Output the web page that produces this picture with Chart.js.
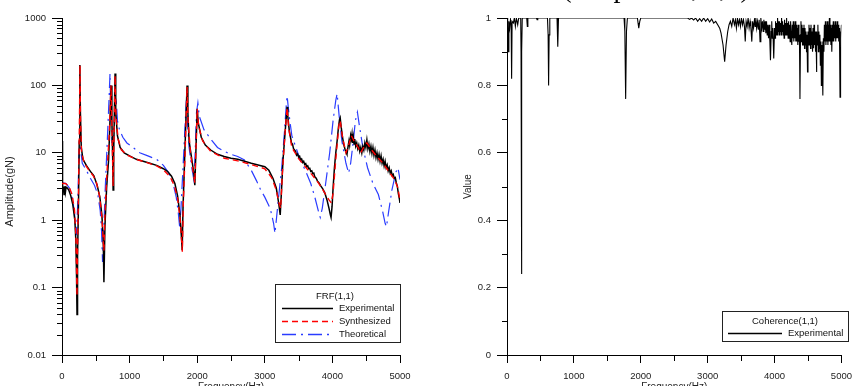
<!DOCTYPE html>
<html>
<head>
<meta charset="utf-8">
<script src="https://cdn.jsdelivr.net/npm/chart.js@4.4.1/dist/chart.umd.min.js"></script>
<style>
html, body { margin: 0; padding: 0; background: #fff; overflow: hidden; }
#wrap { position: relative; width: 860px; height: 386px; }
canvas { position: absolute; top: 0; }
#frfChart { left: 0; }
#cohChart { left: 430px; }
</style>
</head>
<body>
<div id="wrap">
  <canvas id="frfChart" width="430" height="386"></canvas>
  <canvas id="cohChart" width="430" height="386"></canvas>
</div>
<script>
// ==============================
// DATA  (frequency Hz, value)
// ==============================
const freqTicks = [0, 1000, 2000, 3000, 4000, 5000];
const freqTickLabels = ["0", "1000", "2000", "3000", "4000", "5000"];
const freqMinor = [500, 1500, 2500, 3500, 4500];

const ampTicks = [0.01, 0.1, 1, 10, 100, 1000];
const ampTickLabels = ["0.01", "0.1", "1", "10", "100", "1000"];
const ampMinor = [0.02, 0.03, 0.04, 0.05, 0.06, 0.07, 0.08, 0.09,
                  0.2, 0.3, 0.4, 0.5, 0.6, 0.7, 0.8, 0.9,
                  2, 3, 4, 5, 6, 7, 8, 9,
                  20, 30, 40, 50, 60, 70, 80, 90,
                  200, 300, 400, 500, 600, 700, 800, 900];

const cohTickLabels = ["0", "0.2", "0.4", "0.6", "0.8", "1"];
const cohMinor = [0.1, 0.3, 0.5, 0.7, 0.9];

const experimental = [
  [0, 15], [8, 3.3], [20, 3.0], [30, 2.4], [40, 3.2], [50, 2.6], [60, 3.1], [80, 3.0], [100, 2.8],
  [130, 2.3], [160, 1.7], [190, 1.0], [205, 0.5], [215, 0.15], [222, 0.04], [230, 0.3], [245, 2],
  [255, 15], [262, 80], [266, 200], [272, 40], [285, 12], [310, 8], [360, 6.5], [420, 5.3], [470, 4.6],
  [520, 3.3], [560, 2.2], [590, 1.2], [610, 0.5], [620, 0.12], [635, 0.8], [660, 3], [690, 8], [710, 30],
  [725, 100], [738, 30], [750, 8], [756, 2.8], [765, 10], [778, 60], [785, 150], [795, 40], [820, 18],
  [860, 12], [920, 10], [1000, 9], [1100, 8], [1200, 7.5], [1300, 7], [1400, 6.5], [1500, 5.8],
  [1560, 5.3], [1620, 4.5], [1670, 3.5], [1710, 2.3], [1745, 1.2], [1765, 0.6], [1778, 0.36],
  [1790, 1.5], [1810, 6], [1830, 25], [1850, 100], [1862, 40], [1880, 15], [1920, 8], [1950, 5],
  [1965, 3.3], [1980, 10], [2000, 45], [2015, 28], [2060, 17], [2120, 13], [2200, 11], [2300, 9.5],
  [2400, 8.8], [2500, 8.3], [2600, 8], [2700, 7.5], [2800, 7], [2900, 6.6], [3000, 6.2], [3060, 5.5],
  [3120, 4.2], [3170, 3], [3205, 1.8], [3228, 1.2], [3245, 2.5], [3270, 8], [3300, 20], [3330, 48],
  [3340, 35], [3350, 28], [3365, 20], [3380, 17], [3395, 14], [3410, 13.5], [3425, 11.5], [3440, 11],
  [3455, 10.5], [3470, 9.2], [3485, 9.6], [3500, 8.6], [3515, 8.9], [3530, 7.8], [3545, 8.1],
  [3560, 7.2], [3575, 7.5], [3590, 6.7], [3605, 6.9], [3620, 6.2], [3635, 6.4], [3650, 5.8],
  [3665, 5.9], [3680, 5.3], [3695, 5.4], [3710, 4.9], [3725, 5], [3740, 4.4], [3760, 4.2],
  [3780, 3.8], [3800, 3.6], [3830, 3.2], [3860, 2.9], [3890, 2.5], [3920, 2.0], [3950, 1.5],
  [3970, 1.2], [3980, 1.1], [3995, 1.6], [4010, 3], [4030, 6], [4050, 10], [4070, 15], [4090, 24],
  [4105, 31], [4115, 33], [4130, 24], [4150, 17], [4170, 13], [4190, 11], [4205, 10], [4215, 9.5],
  [4230, 12], [4245, 15], [4255, 13], [4270, 18], [4280, 16], [4290, 19], [4300, 14], [4310, 17],
  [4320, 13.5], [4330, 16], [4345, 12.5], [4360, 14], [4375, 11.5], [4390, 13], [4405, 10.5],
  [4420, 12], [4435, 10], [4450, 12.5], [4465, 11], [4480, 14], [4495, 12], [4510, 15.5],
  [4525, 11.5], [4540, 13.5], [4555, 10.5], [4570, 12.5], [4585, 9.8], [4600, 12], [4615, 9.2],
  [4630, 11], [4645, 8.5], [4660, 10], [4675, 8], [4690, 9.5], [4705, 7.5], [4720, 9], [4735, 7],
  [4750, 8], [4765, 6.4], [4780, 7.5], [4795, 6], [4810, 6.6], [4825, 5.4], [4840, 6], [4855, 5],
  [4870, 5.4], [4885, 4.6], [4900, 4.8], [4915, 4.2], [4930, 4.3], [4945, 3.6], [4960, 3.2],
  [4975, 2.5], [4990, 2.1], [5000, 1.8]
];

const synthesized = [
  [0, 3.5], [50, 3.5], [100, 3.2], [150, 2.4], [185, 1.4], [205, 0.6], [215, 0.2], [222, 0.075],
  [230, 0.4], [245, 3], [258, 30], [266, 200], [274, 30], [290, 10], [330, 7], [400, 5.5], [460, 4.6],
  [510, 3.6], [555, 2.3], [590, 1.1], [610, 0.5], [620, 0.35], [635, 1.2], [665, 5], [700, 20],
  [725, 100], [738, 25], [748, 8], [756, 3.2], [768, 15], [785, 140], [798, 35], [830, 16], [880, 11],
  [960, 9.3], [1100, 8], [1250, 7.2], [1400, 6.4], [1500, 5.6], [1600, 4.4], [1660, 3.3], [1710, 2.1],
  [1745, 1.1], [1770, 0.5], [1780, 0.34], [1795, 1.8], [1820, 9], [1850, 95], [1865, 30], [1900, 10],
  [1945, 4.8], [1965, 3.6], [1985, 15], [2000, 45], [2020, 25], [2080, 15], [2200, 10.5], [2400, 8.3],
  [2600, 7.6], [2800, 6.7], [3000, 5.8], [3100, 4.3], [3170, 2.8], [3210, 1.8], [3235, 1.5],
  [3260, 5], [3300, 20], [3330, 47], [3350, 25], [3400, 12], [3500, 8.2], [3600, 6.2], [3700, 4.7],
  [3800, 3.5], [3880, 2.6], [3950, 2.0], [3985, 1.8], [4010, 2.5], [4050, 8], [4100, 28], [4115, 30],
  [4150, 17], [4200, 10], [4240, 13], [4280, 18], [4320, 15], [4380, 12], [4420, 10], [4470, 12.5],
  [4510, 14], [4580, 11], [4650, 9], [4750, 7], [4850, 5], [4920, 4], [4970, 3], [5000, 1.9]
];

const theoretical = [
  [0, 3.6], [60, 3.5], [110, 3.0], [150, 2.2], [185, 1.3], [200, 0.8], [212, 0.6], [230, 1.5],
  [250, 8], [262, 20], [272, 12], [300, 7], [360, 5.5], [420, 4.2], [480, 3.3], [530, 2.4],
  [565, 1.4], [585, 0.7], [600, 0.24], [615, 0.6], [640, 3], [670, 15], [695, 60], [710, 150],
  [722, 40], [740, 14], [760, 20], [790, 45], [805, 55], [820, 30], [850, 22], [900, 17], [960, 14],
  [1050, 12], [1150, 10], [1270, 9], [1400, 8], [1500, 6.5], [1580, 5], [1640, 3.6], [1690, 2.2],
  [1720, 1.3], [1740, 0.8], [1760, 1.5], [1790, 6], [1820, 25], [1840, 60], [1855, 30], [1880, 12],
  [1920, 6], [1950, 4], [1970, 10], [1990, 40], [2010, 55], [2030, 35], [2100, 22], [2200, 16],
  [2300, 12], [2400, 10.5], [2500, 9.5], [2600, 8.8], [2700, 7.8], [2800, 5.5], [2880, 3.8],
  [2940, 2.8], [3000, 2.2], [3080, 1.5], [3130, 0.9], [3150, 0.64], [3170, 1], [3200, 2], [3250, 6],
  [3290, 20], [3320, 55], [3330, 70], [3345, 50], [3370, 30], [3400, 18], [3460, 12], [3520, 8],
  [3600, 5.5], [3680, 3.5], [3740, 2.2], [3790, 1.4], [3820, 1.1], [3850, 1.5], [3900, 3.5],
  [3960, 10], [4010, 30], [4050, 60], [4070, 75], [4100, 35], [4140, 15], [4200, 7], [4240, 5],
  [4270, 7], [4310, 15], [4340, 30], [4370, 40], [4400, 25], [4450, 12], [4520, 6], [4600, 3.5],
  [4680, 2.4], [4740, 1.4], [4780, 0.9], [4800, 0.8], [4830, 1.3], [4880, 2.8], [4940, 5.2],
  [4970, 6], [5000, 4]
];

const coherence = [
  [0, 1], [10, 0.98], [20, 0.9], [28, 0.99], [40, 0.97], [52, 0.995], [62, 0.98], [69, 0.82], [76, 0.99],
  [95, 0.985], [110, 1], [125, 0.975], [140, 1], [160, 0.98], [175, 1], [205, 1], [210, 0.9], [216, 0.24],
  [222, 0.9], [228, 1], [295, 1], [304, 0.975], [312, 1], [440, 1], [450, 0.995], [460, 1], [605, 1],
  [615, 0.95], [622, 0.8], [630, 0.95], [640, 1], [748, 1], [759, 0.915], [770, 1], [1200, 1], [1750, 1],
  [1762, 0.96], [1774, 0.76], [1786, 0.96], [1800, 1], [1950, 1], [1960, 0.985], [1970, 0.97],
  [1985, 0.99], [2000, 1], [2700, 1], [2730, 0.996], [2760, 1], [2790, 0.994], [2820, 1], [2850, 0.99],
  [2880, 0.998], [2910, 0.99], [2940, 1], [2970, 0.99], [3000, 0.998], [3030, 0.988], [3060, 0.997],
  [3090, 0.985], [3120, 0.99], [3150, 0.98], [3180, 0.97], [3200, 0.955], [3230, 0.92], [3254, 0.87],
  [3275, 0.92], [3300, 0.96], [3320, 0.98], [3340, 0.99], [3360, 0.975], [3380, 1], [3400, 0.98],
  [3415, 0.995], [3430, 0.97], [3445, 1], [3460, 0.98], [3475, 0.995], [3490, 0.975], [3505, 1],
  [3520, 0.98], [3535, 0.995], [3550, 0.975], [3562, 0.93], [3575, 0.99], [3590, 0.975], [3605, 1],
  [3620, 0.97], [3635, 0.99], [3645, 0.975], [3660, 0.93], [3672, 0.99], [3686, 0.97], [3700, 0.995],
  [3710, 0.975], [3720, 1], [3732, 0.97], [3745, 0.99], [3758, 0.965], [3770, 0.995], [3783, 0.93],
  [3795, 1], [3808, 0.97], [3820, 0.99], [3830, 0.96], [3840, 0.995], [3850, 0.965], [3860, 0.99],
  [3870, 0.955], [3880, 0.99], [3890, 0.95], [3900, 0.98], [3910, 0.94], [3920, 0.98], [3930, 0.93],
  [3939, 0.875], [3950, 0.96], [3958, 0.99], [3965, 0.94], [3975, 0.97], [3988, 0.88], [4000, 0.97],
  [4008, 0.94], [4015, 0.99], [4022, 0.95], [4030, 0.985], [4038, 0.95], [4045, 1], [4053, 0.96],
  [4060, 0.99], [4068, 0.95], [4075, 0.99], [4083, 0.96], [4090, 0.985], [4098, 0.95], [4105, 1],
  [4113, 0.96], [4120, 0.99], [4128, 0.95], [4135, 0.98], [4143, 0.94], [4150, 0.995], [4158, 0.95],
  [4165, 0.985], [4173, 0.95], [4180, 1], [4188, 0.95], [4195, 0.985], [4203, 0.94], [4210, 0.99],
  [4218, 0.94], [4225, 0.98], [4233, 0.93], [4240, 0.99], [4250, 0.94], [4258, 0.92], [4265, 0.98],
  [4272, 0.94], [4280, 0.99], [4288, 0.93], [4295, 0.98], [4303, 0.94], [4310, 0.99], [4318, 0.93],
  [4325, 0.98], [4333, 0.93], [4340, 0.97], [4348, 0.92], [4355, 0.98], [4365, 0.93], [4372, 0.95],
  [4380, 0.76], [4388, 0.95], [4395, 0.99], [4403, 0.93], [4410, 0.98], [4418, 0.92], [4425, 0.97],
  [4433, 0.92], [4440, 0.98], [4448, 0.91], [4455, 0.97], [4463, 0.92], [4470, 0.96], [4478, 0.9],
  [4485, 0.95], [4493, 0.84], [4500, 0.96], [4508, 0.92], [4515, 0.98], [4523, 0.92], [4530, 0.97],
  [4538, 0.91], [4545, 0.98], [4553, 0.92], [4560, 0.96], [4568, 0.9], [4575, 0.97], [4583, 0.91],
  [4590, 0.98], [4598, 0.92], [4605, 0.96], [4613, 0.9], [4620, 0.95], [4626, 0.84], [4633, 0.96],
  [4640, 0.92], [4648, 0.98], [4655, 0.9], [4663, 0.96], [4670, 0.91], [4678, 0.95], [4685, 0.86],
  [4693, 0.93], [4700, 0.8], [4707, 0.92], [4714, 0.86], [4720, 0.93], [4724, 0.77], [4730, 0.94],
  [4738, 0.9], [4745, 0.98], [4753, 0.93], [4760, 0.99], [4768, 0.92], [4775, 0.98], [4783, 0.93],
  [4790, 0.99], [4798, 0.92], [4805, 0.98], [4813, 0.93], [4820, 1], [4828, 0.93], [4835, 0.98],
  [4843, 0.92], [4850, 0.97], [4856, 0.9], [4863, 0.98], [4870, 0.93], [4878, 0.99], [4885, 0.93],
  [4893, 0.98], [4900, 0.94], [4908, 0.99], [4915, 0.93], [4923, 0.98], [4930, 0.94], [4938, 0.99],
  [4945, 0.94], [4953, 0.98], [4960, 0.93], [4967, 0.97], [4972, 0.93], [4979, 0.765], [4986, 0.96],
  [4993, 0.94], [5000, 0.98]
];

// ==============================
// HELPERS
// ==============================
const FONT = '"Liberation Sans", Arial, sans-serif';
Chart.defaults.font.family = FONT;
Chart.defaults.font.size = 9.5;
Chart.defaults.color = "#222";

const toXY = arr => arr.map(p => ({ x: p[0], y: p[1] }));

// minor ticks, axis titles, boxed legend
const decorPlugin = {
  id: "decor",
  afterDraw(chart, args, opts) {
    const ctx = chart.ctx;
    const { left, right, top, bottom } = chart.chartArea;
    const xs = chart.scales.x;
    const ys = chart.scales.y;

    ctx.save();
    ctx.strokeStyle = "#000";
    ctx.lineWidth = 1;
    ctx.beginPath();
    opts.xMinor.forEach(v => {
      const px = Math.round(xs.getPixelForValue(v)) + 0.5;
      ctx.moveTo(px, bottom);
      ctx.lineTo(px, bottom + 6);
    });
    opts.yMinor.forEach(v => {
      const py = Math.round(ys.getPixelForValue(v)) + 0.5;
      ctx.moveTo(left - 5, py);
      ctx.lineTo(left, py);
    });
    ctx.stroke();

    // axis titles (x title is cut off by the bottom edge, like the source)
    ctx.fillStyle = "#222";
    ctx.font = "10px " + FONT;
    ctx.textAlign = "center";
    ctx.textBaseline = "top";
    ctx.fillText(opts.xTitle, (left + right) / 2, 382);
    ctx.save();
    ctx.font = opts.yTitleSize + "px " + FONT;
    ctx.translate(opts.yTitleX, (top + bottom) / 2 + opts.yTitleShift);
    ctx.rotate(-Math.PI / 2);
    ctx.textBaseline = "middle";
    ctx.fillText(opts.yTitle, 0, 0);
    ctx.restore();

    if (opts.topTitle) {
      ctx.font = opts.topTitle.font;
      ctx.fillStyle = "#000";
      ctx.textBaseline = "alphabetic";
      ctx.fillText(opts.topTitle.text, opts.topTitle.x, opts.topTitle.y);
    }

    // legend
    const lg = opts.legend;
    const [x1, y1, x2, y2] = lg.box;
    ctx.fillStyle = "#fff";
    ctx.fillRect(x1, y1, x2 - x1, y2 - y1);
    ctx.strokeStyle = "#222";
    ctx.lineWidth = 1;
    ctx.strokeRect(x1 + 0.5, y1 + 0.5, x2 - x1, y2 - y1);
    ctx.font = "9.5px " + FONT;
    ctx.fillStyle = "#111";
    ctx.textBaseline = "middle";
    ctx.textAlign = "center";
    ctx.fillText(lg.title, lg.titleX, lg.titleY);
    ctx.textAlign = "left";
    chart.data.datasets.forEach((ds, i) => {
      const y = lg.rowY[i];
      ctx.save();
      ctx.beginPath();
      ctx.setLineDash(ds.borderDash || []);
      ctx.strokeStyle = ds.borderColor;
      ctx.lineWidth = 1.4;
      ctx.moveTo(lg.lineX[0], y + 0.5);
      ctx.lineTo(lg.lineX[1], y + 0.5);
      ctx.stroke();
      ctx.restore();
      ctx.fillStyle = "#111";
      ctx.fillText(ds.label, lg.textX, y);
    });
    ctx.restore();
  }
};

function xScale() {
  return {
    type: "linear",
    min: 0,
    max: 5000,
    afterBuildTicks: s => { s.ticks = freqTicks.map(v => ({ value: v })); },
    afterFit: s => { s.height = 31; },
    ticks: { autoSkip: false, maxRotation: 0, padding: 8, color: "#222", callback: (v, i) => freqTickLabels[i] },
    grid: { drawOnChartArea: false, tickLength: 8, tickColor: "#000", tickWidth: 1 },
    border: { color: "#000", width: 1 }
  };
}

// ==============================
// FRF CHART
// ==============================
new Chart(document.getElementById("frfChart"), {
  type: "line",
  data: {
    datasets: [
      { label: "Experimental", data: toXY(experimental), borderColor: "#000", borderWidth: 1.5, order: 2 },
      { label: "Synthesized", data: toXY(synthesized), borderColor: "#ff0000", borderWidth: 1.4,
        borderDash: [6, 4], order: 1 },
      { label: "Theoretical", data: toXY(theoretical), borderColor: "#2a3cff", borderWidth: 1.2,
        borderDash: [14, 5, 2, 5], order: 3 }
    ]
  },
  options: {
    responsive: false,
    animation: false,
    events: [],
    layout: { padding: { left: 0, right: 30, top: 18, bottom: 0 } },
    elements: { point: { radius: 0 }, line: { tension: 0 } },
    scales: {
      x: xScale(),
      y: {
        type: "logarithmic",
        min: 0.01,
        max: 1000,
        afterBuildTicks: s => { s.ticks = ampTicks.map(v => ({ value: v })); },
        afterFit: s => { s.width = 62; },
        ticks: { autoSkip: false, padding: 6, color: "#222", callback: (v, i) => ampTickLabels[i] },
        grid: { drawOnChartArea: false, tickLength: 10, tickColor: "#000", tickWidth: 1 },
        border: { color: "#000", width: 1 }
      }
    },
    plugins: {
      legend: { display: false },
      tooltip: { enabled: false },
      decor: {
        xMinor: freqMinor,
        yMinor: ampMinor,
        xTitle: "Frequency(Hz)",
        yTitle: "Amplitude(gN)",
        yTitleSize: 11,
        yTitleX: 10,
        yTitleShift: 5,
        legend: {
          box: [275, 284, 400, 342],
          title: "FRF(1,1)",
          titleX: 335, titleY: 296,
          rowY: [308, 321, 334],
          lineX: [282, 333],
          textX: 339
        }
      }
    }
  },
  plugins: [decorPlugin]
});

// ==============================
// COHERENCE CHART
// ==============================
new Chart(document.getElementById("cohChart"), {
  type: "line",
  data: {
    datasets: [
      { label: "Experimental", data: toXY(coherence), borderColor: "#000", borderWidth: 1.1 }
    ]
  },
  options: {
    responsive: false,
    animation: false,
    events: [],
    layout: { padding: { left: 0, right: 13, top: 18, bottom: 0 } },
    elements: { point: { radius: 0 }, line: { tension: 0 } },
    scales: {
      x: xScale(),
      y: {
        type: "linear",
        min: 0,
        max: 1,
        ticks: { stepSize: 0.2, autoSkip: false, padding: 6, color: "#222", callback: (v, i) => cohTickLabels[i] },
        afterFit: s => { s.width = 77; },
        grid: { drawOnChartArea: false, tickLength: 10, tickColor: "#000", tickWidth: 1 },
        border: { color: "#000", width: 1 }
      }
    },
    plugins: {
      legend: { display: false },
      tooltip: { enabled: false },
      decor: {
        xMinor: freqMinor,
        yMinor: cohMinor,
        xTitle: "Frequency(Hz)",
        yTitle: "Value",
        yTitleSize: 10,
        yTitleX: 38,
        yTitleShift: 0,
        topTitle: { text: "(Amplitude, 1,1)", x: 226, y: -3, font: '28px "Liberation Serif", serif' },
        legend: {
          box: [292, 311, 418, 341],
          title: "Coherence(1,1)",
          titleX: 355, titleY: 321,
          rowY: [333],
          lineX: [298, 352],
          textX: 358
        }
      }
    }
  },
  plugins: [decorPlugin]
});
</script>
</body>
</html>
